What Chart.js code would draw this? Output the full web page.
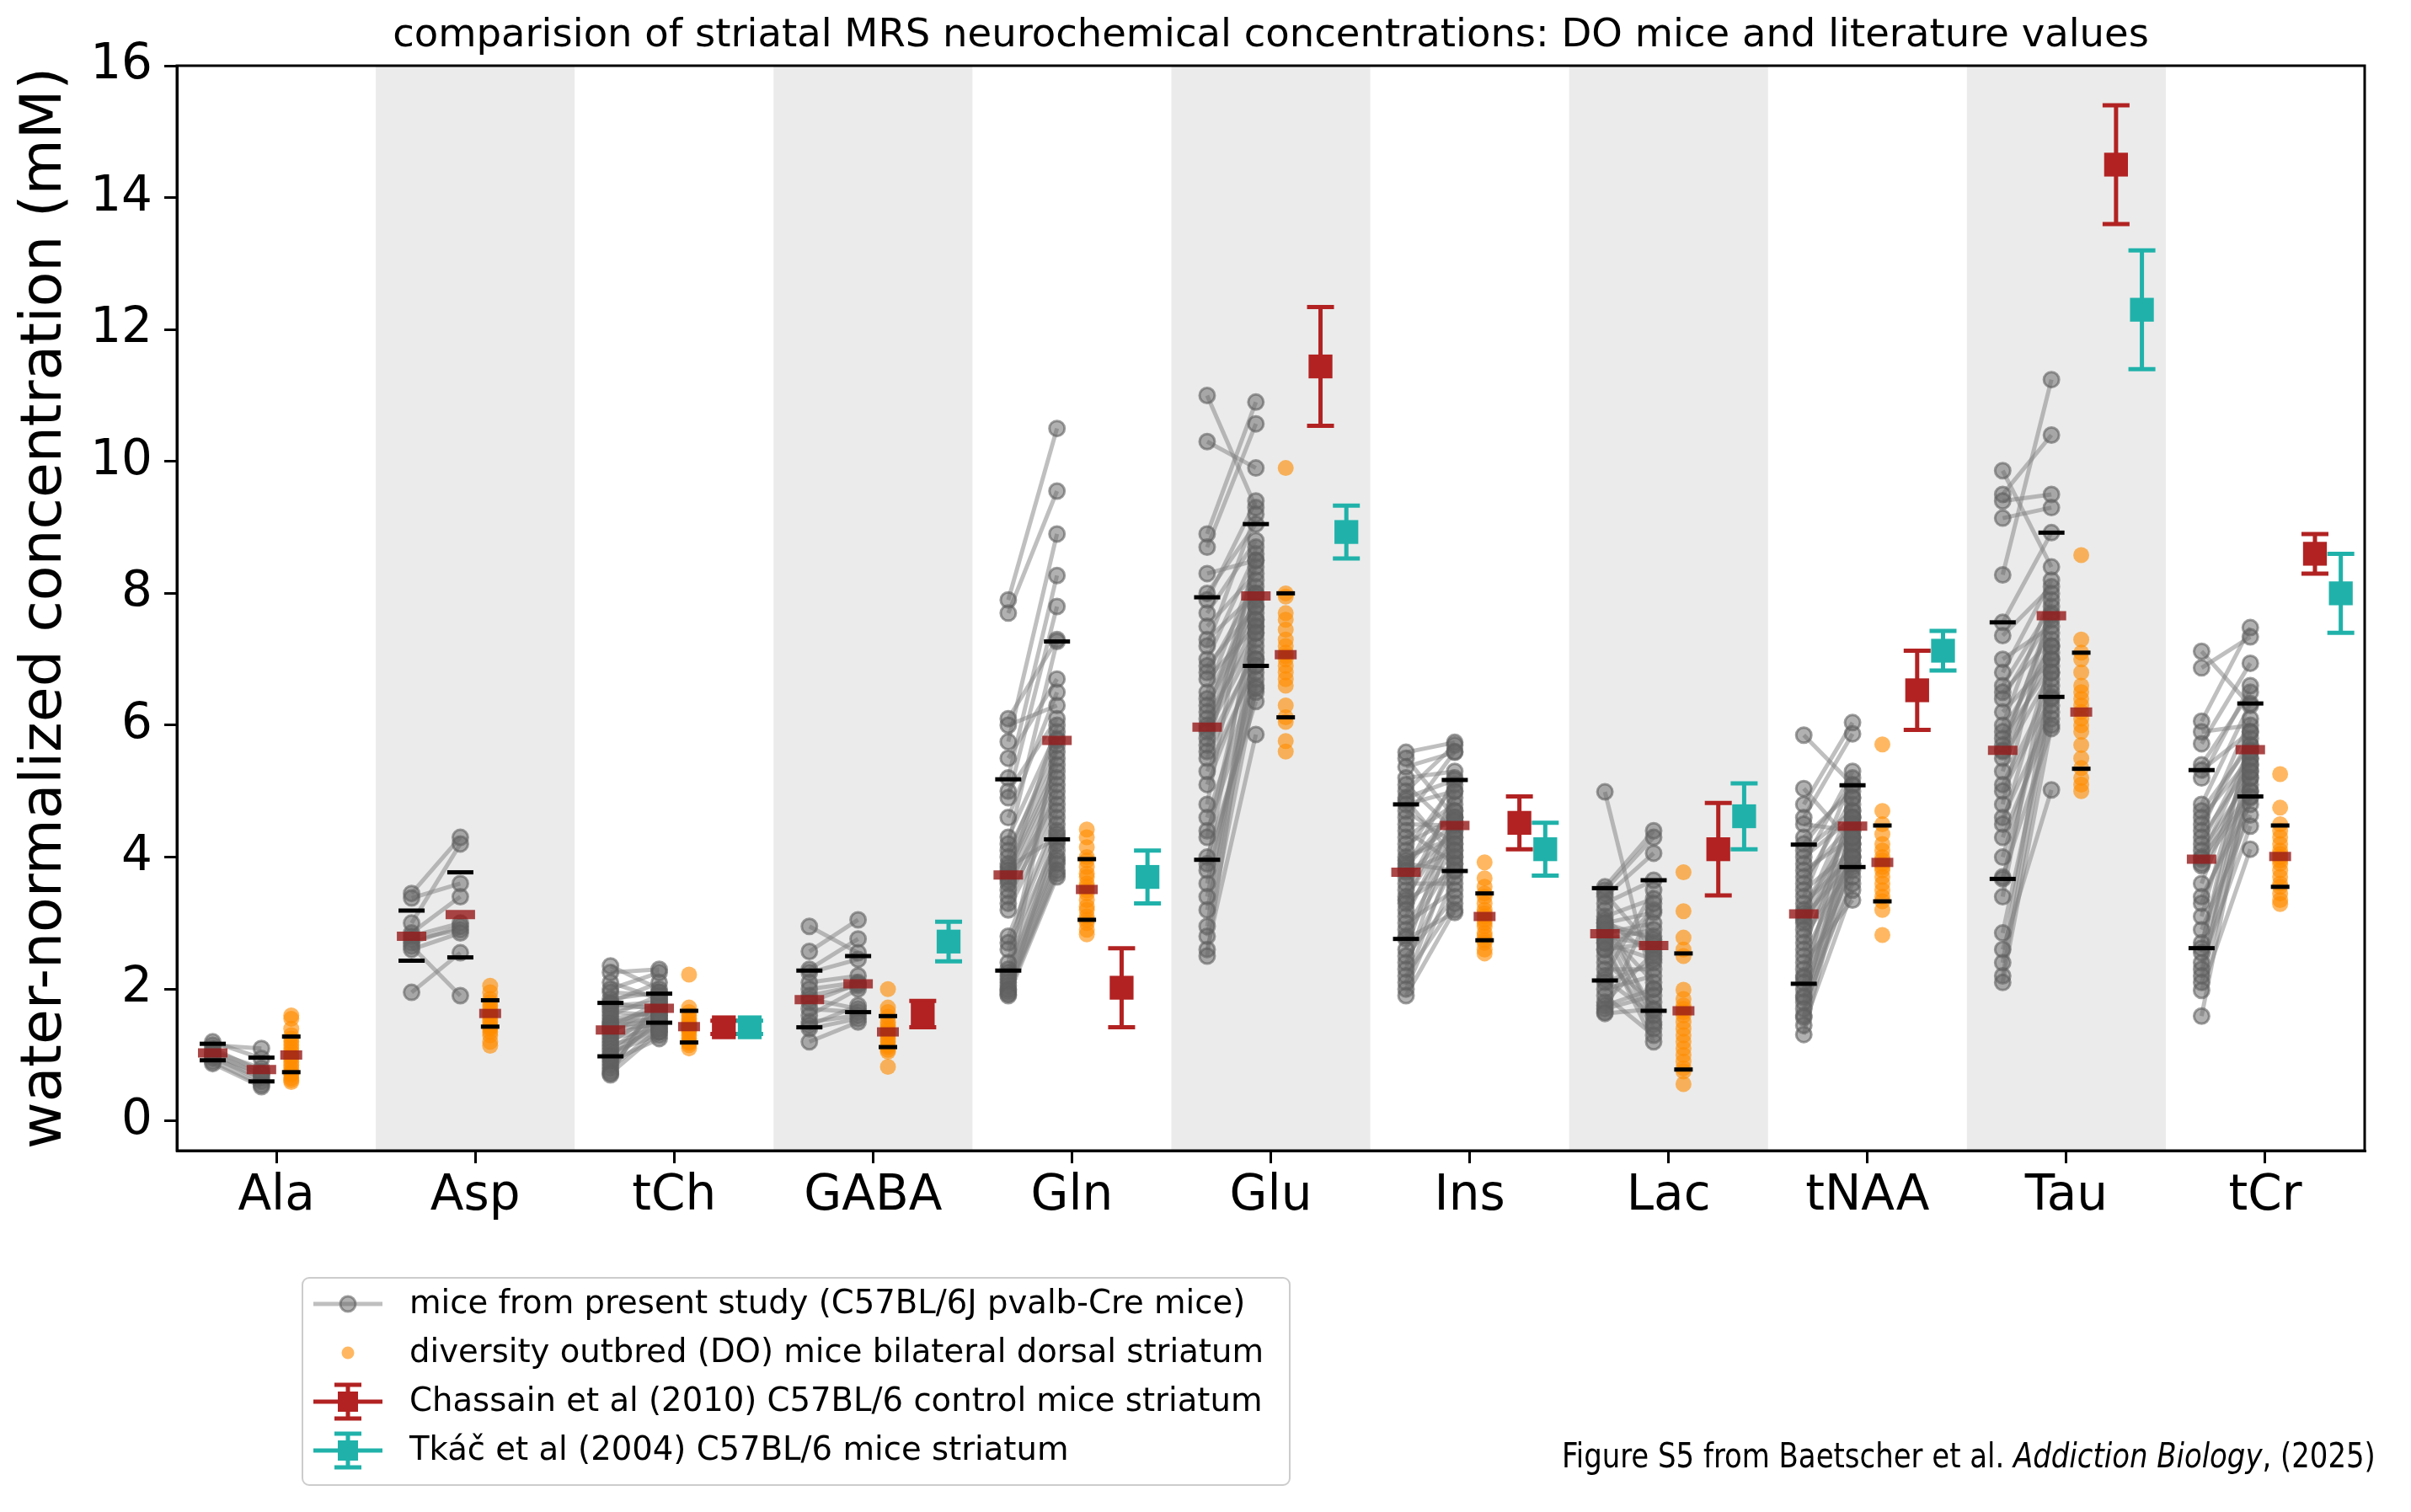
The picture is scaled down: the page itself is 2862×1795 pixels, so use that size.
<!DOCTYPE html>
<html>
<head>
<meta charset="utf-8">
<script src="https://cdn.jsdelivr.net/npm/chart.js@4.4.1/dist/chart.umd.min.js"></script>
<style>
  html, body { margin: 0; padding: 0; background: #fff; overflow: hidden; }
  #wrap { position: relative; width: 2862px; height: 1795px; }
  #note {
    position: absolute; right: 42px; top: 1708px;
    font: 41px "Liberation Sans Narrow", "DejaVu Sans Condensed", sans-serif;
    line-height: 1; color: #000; white-space: nowrap;
    transform: scaleX(0.92); transform-origin: right center;
  }
</style>
</head>
<body>
<div id="wrap">
  <canvas id="chart"></canvas>
  <div id="note">Figure S5 from Baetscher et al. <i>Addiction Biology</i>, (2025)</div>
</div>
<script>
const categories = ["Ala", "Asp", "tCh", "GABA", "Gln", "Glu", "Ins", "Lac", "tNAA", "Tau", "tCr"];
const yTicks = [0, 2, 4, 6, 8, 10, 12, 14, 16];

// present study mice: first and second measurement per mouse (paired)
const alaA = [1.2, 1.15, 1.1, 1.05, 1.02, 1.0, 0.98, 0.95, 0.9, 0.87];
const alaB = [0.95, 1.1, 0.75, 0.8, 0.7, 0.72, 0.6, 0.65, 0.55, 0.52];
const aspA = [3.45, 3.38, 3.0, 2.85, 2.8, 2.75, 2.7, 2.65, 2.6, 1.95];
const aspB = [4.3, 3.6, 4.2, 3.4, 3.0, 2.9, 2.95, 1.9, 2.85, 2.55];
const tchA = [2.35, 2.25, 2.1, 2.0, 1.95, 1.85, 1.8, 1.78, 1.75, 1.7, 1.65, 1.6, 1.55, 1.5, 1.48, 1.45, 1.42, 1.4,
  1.38, 1.35, 1.3, 1.25, 1.2, 1.15, 1.1, 1.05, 1.0, 0.98, 0.95, 0.9, 0.85, 0.8, 0.75, 0.72, 0.7];
const tchB = [2.0, 2.3, 1.85, 2.25, 1.9, 1.95, 2.1, 1.7, 1.8, 1.75, 1.6, 1.9, 1.65, 1.55, 1.7, 1.5, 1.8, 1.45,
  1.6, 1.75, 1.5, 1.4, 1.65, 1.35, 1.55, 1.3, 1.45, 1.7, 1.5, 1.25, 1.6, 1.4, 1.85, 1.35, 1.95];
const gabaA = [2.95, 2.57, 2.3, 2.25, 2.1, 2.0, 1.9, 1.85, 1.8, 1.7, 1.6, 1.5, 1.45, 1.4, 1.2];
const gabaB = [2.55, 3.05, 2.76, 2.45, 2.2, 2.1, 2.05, 1.7, 2.08, 1.65, 2.0, 1.6, 1.75, 1.55, 1.5];
const glnA = [7.9, 7.7, 6.1, 6.0, 5.75, 5.5, 5.2, 5.0, 4.9, 4.6, 4.3, 4.2, 4.1, 4.0, 3.9, 3.85, 3.8, 3.75, 3.7, 3.65,
  3.6, 3.5, 3.4, 3.3, 3.2, 2.8, 2.7, 2.6, 2.4, 2.3, 2.25, 2.2, 2.15, 2.1, 2.05, 2.0, 1.98, 1.95, 1.92, 1.9];
const glnB = [10.5, 9.55, 7.3, 6.3, 8.9, 6.7, 8.27, 6.1, 7.8, 6.5, 5.9, 7.27, 5.6, 5.8, 5.5, 4.3, 5.4, 5.3, 6.0, 5.2,
  4.9, 5.1, 4.8, 5.0, 4.7, 4.6, 4.5, 4.25, 5.7, 4.4, 4.2, 4.1, 4.0, 3.95, 5.77, 3.9, 3.8, 3.75, 4.35, 3.7];
const gluA = [11.0, 10.3, 8.9, 8.7, 8.3, 8.0, 7.9, 7.7, 7.5, 7.3, 7.2, 7.0, 6.9, 6.8, 6.7, 6.5, 6.4, 6.3, 6.2, 6.1,
  6.0, 5.95, 5.9, 5.8, 5.7, 5.6, 5.5, 5.3, 5.1, 4.8, 4.6, 4.4, 4.3, 4.0, 3.9, 3.8, 3.6, 3.4, 3.2, 2.95, 2.8, 2.6, 2.5];
const gluB = [9.3, 9.9, 10.9, 10.57, 8.5, 9.05, 9.4, 8.8, 8.3, 8.0, 9.2, 8.6, 7.8, 8.1, 7.5, 8.4, 7.9, 7.7, 8.2, 7.4,
  8.0, 7.6, 7.3, 7.95, 7.1, 8.5, 7.2, 6.9, 7.0, 8.7, 6.8, 6.6, 7.5, 6.36, 7.8, 6.5, 6.9, 7.0, 6.7, 7.6, 6.56, 5.86, 7.4];
const insA = [5.59, 5.5, 5.37, 5.2, 5.1, 5.0, 4.9, 4.86, 4.8, 4.7, 4.6, 4.5, 4.4, 4.3, 4.2, 4.1, 4.0, 3.95, 3.9, 3.85,
  3.8, 3.77, 3.7, 3.6, 3.5, 3.4, 3.35, 3.3, 3.2, 3.1, 3.0, 2.9, 2.8, 2.76, 2.6, 2.5, 2.4, 2.3, 2.2, 2.1, 2.0, 1.9];
const insB = [5.74, 4.6, 5.59, 5.3, 4.4, 5.7, 5.17, 4.0, 5.0, 4.2, 5.6, 4.48, 3.9, 4.8, 4.6, 5.1, 4.3, 4.5, 3.8, 4.7,
  5.2, 4.1, 4.4, 3.6, 4.9, 4.5, 3.79, 5.0, 4.3, 4.6, 3.5, 4.2, 4.0, 3.16, 4.7, 3.4, 3.9, 4.55, 3.3, 4.1, 3.7, 3.2];
const lacA = [4.99, 3.55, 3.5, 3.45, 3.4, 3.3, 3.2, 3.1, 3.05, 3.0, 2.95, 2.9, 2.85, 2.84, 2.8, 2.75, 2.7, 2.6,
  2.5, 2.4, 2.3, 2.2, 2.15, 2.1, 2.0, 1.9, 1.8, 1.75, 1.7, 1.65, 1.63, 2.9, 3.0, 2.6, 2.7];
const lacB = [2.0, 4.4, 4.3, 2.6, 4.06, 3.65, 1.5, 3.37, 2.5, 3.16, 1.67, 2.8, 3.0, 1.46, 2.66, 2.9, 1.2, 2.7,
  3.2, 1.8, 2.3, 3.5, 1.6, 2.4, 2.2, 1.3, 2.55, 2.0, 1.9, 3.3, 1.7, 2.1, 2.75, 1.4, 2.45];
const naaA = [5.85, 5.04, 4.8, 4.6, 4.5, 4.3, 4.2, 4.1, 4.0, 3.9, 3.8, 3.7, 3.6, 3.5, 3.4, 3.3, 3.2, 3.15, 3.1, 3.05,
  3.0, 2.9, 2.8, 2.7, 2.6, 2.5, 2.4, 2.3, 2.2, 2.17, 2.1, 2.0, 1.9, 1.87, 1.8, 1.7, 1.6, 1.57, 1.45, 1.31];
const naaB = [5.1, 4.2, 6.04, 5.87, 4.4, 5.0, 5.09, 4.7, 4.6, 5.3, 4.3, 4.5, 4.9, 4.1, 5.2, 4.0, 4.45, 4.8, 3.9, 4.6,
  4.2, 4.5, 3.85, 4.3, 4.7, 4.0, 3.35, 4.4, 3.8, 4.1, 4.9, 3.9, 3.6, 4.2, 4.5, 3.7, 4.0, 4.6, 3.5, 4.3];
const tauA = [9.86, 9.5, 9.4, 9.14, 8.28, 7.56, 7.36, 7.0, 6.8, 6.6, 6.5, 6.4, 6.2, 6.0, 5.9, 5.8, 5.7, 5.62,
  5.6, 5.5, 5.3, 5.1, 5.0, 4.8, 4.6, 4.5, 4.3, 4.0, 3.7, 3.67, 3.4, 2.85, 2.6, 2.4, 2.2, 2.1];
const tauB = [8.4, 10.4, 9.5, 9.3, 11.24, 8.92, 8.1, 7.5, 8.2, 7.8, 7.3, 7.66, 7.0, 8.0, 7.2, 6.9, 7.6, 7.7,
  7.1, 6.8, 7.4, 6.6, 6.43, 7.9, 6.2, 7.0, 6.1, 6.5, 5.95, 6.7, 7.2, 6.3, 5.02, 6.8, 6.4, 6.0];
const tcrA = [7.12, 6.87, 6.06, 5.9, 5.72, 5.4, 5.32, 5.2, 4.8, 4.7, 4.6, 4.5, 4.4, 4.3, 4.2, 4.1, 4.0,
  3.97, 3.9, 3.87, 3.6, 3.4, 3.3, 3.1, 2.9, 2.7, 2.62, 2.55, 2.4, 2.3, 2.2, 2.1, 1.98, 1.59];
const tcrB = [6.3, 7.34, 7.48, 6.0, 6.94, 6.5, 5.9, 6.6, 6.33, 5.7, 5.5, 5.8, 6.1, 5.4, 5.63, 5.2, 5.6,
  5.0, 5.3, 4.92, 5.5, 4.8, 5.1, 5.7, 4.64, 5.4, 5.9, 5.0, 4.47, 5.2, 5.6, 4.9, 4.12, 5.3];

// diversity outbred mice
const alaDO = [1.6, 1.55, 1.4, 1.3, 1.25, 1.2, 1.15, 1.1, 1.05, 1.0, 0.98, 0.95, 0.9, 0.85, 0.8, 0.75, 0.72, 0.7, 0.65, 0.62, 0.59];
const aspDO = [2.05, 1.95, 1.85, 1.8, 1.75, 1.7, 1.65, 1.62, 1.6, 1.55, 1.5, 1.45, 1.42, 1.4, 1.35, 1.3, 1.2, 1.14];
const tchDO = [2.22, 1.72, 1.65, 1.6, 1.55, 1.5, 1.47, 1.45, 1.42, 1.4, 1.38, 1.35, 1.3, 1.25, 1.2, 1.18, 1.15, 1.1];
const gabaDO = [2.0, 1.72, 1.65, 1.58, 1.5, 1.45, 1.4, 1.36, 1.33, 1.3, 1.25, 1.2, 1.15, 1.12, 1.08, 1.05, 0.82];
const glnDO = [4.42, 4.3, 4.15, 4.0, 3.95, 3.85, 3.75, 3.7, 3.6, 3.55, 3.5, 3.45, 3.35, 3.25, 3.2, 3.1, 3.05, 3.0, 2.9, 2.83];
const gluDO = [9.9, 8.0, 7.95, 7.7, 7.6, 7.45, 7.3, 7.2, 7.1, 7.05, 7.0, 6.9, 6.8, 6.7, 6.6, 6.3, 6.12, 6.05, 5.76, 5.6];
const insDO = [3.92, 3.68, 3.55, 3.45, 3.4, 3.3, 3.2, 3.15, 3.1, 3.05, 3.0, 2.95, 2.85, 2.8, 2.74, 2.7, 2.6, 2.54];
const lacDO = [3.77, 3.18, 2.78, 2.6, 2.5, 1.99, 1.85, 1.75, 1.7, 1.65, 1.6, 1.5, 1.4, 1.3, 1.2, 1.1, 1.0, 0.9, 0.8, 0.75, 0.56];
const naaDO = [5.71, 4.7, 4.5, 4.35, 4.2, 4.1, 4.0, 3.95, 3.9, 3.85, 3.8, 3.7, 3.6, 3.5, 3.4, 3.33, 3.2, 2.82];
const tauDO = [8.58, 7.3, 7.1, 7.0, 6.8, 6.6, 6.5, 6.4, 6.3, 6.2, 6.1, 6.0, 5.9, 5.7, 5.5, 5.35, 5.2, 5.1, 5.0];
const tcrDO = [5.26, 4.75, 4.5, 4.4, 4.3, 4.2, 4.1, 4.05, 4.0, 3.95, 3.9, 3.8, 3.7, 3.6, 3.55, 3.45, 3.35, 3.29];

// medians and quartiles
const medFirst = [1.03, 2.8, 1.38, 1.84, 3.73, 5.97, 3.77, 2.84, 3.14, 5.62, 3.97];
const q1First = [0.92, 2.43, 0.98, 1.42, 2.28, 3.96, 2.76, 2.13, 2.08, 3.67, 2.62];
const q3First = [1.17, 3.19, 1.79, 2.28, 5.18, 7.94, 4.8, 3.53, 4.19, 7.56, 5.32];
const medSecond = [0.78, 3.13, 1.71, 2.08, 5.77, 7.96, 4.48, 2.66, 4.47, 7.66, 5.63];
const q1Second = [0.6, 2.48, 1.49, 1.65, 4.27, 6.9, 3.79, 1.67, 3.85, 6.43, 4.92];
const q3Second = [0.96, 3.77, 1.93, 2.5, 7.27, 9.05, 5.17, 3.65, 5.09, 8.92, 6.33];
const medDO = [1.0, 1.63, 1.43, 1.35, 3.51, 7.07, 3.1, 1.67, 3.92, 6.2, 4.01];
const q1DO = [0.74, 1.43, 1.19, 1.12, 3.05, 6.12, 2.74, 0.78, 3.33, 5.34, 3.55];
const q3DO = [1.28, 1.83, 1.67, 1.59, 3.97, 8.0, 3.45, 2.54, 4.48, 7.1, 4.48];

// literature values (mean, error)
const chassain = [null, null, 1.42, 1.62, 2.02, 11.44, 4.52, 4.12, 6.53, 14.5, 8.6];
const chassainErr = [null, null, 0.1, 0.2, 0.6, 0.9, 0.4, 0.7, 0.6, 0.9, 0.3];
const tkac = [null, null, 1.42, 2.72, 3.7, 8.93, 4.12, 4.62, 7.13, 12.3, 8.0];
const tkacErr = [null, null, 0.1, 0.3, 0.4, 0.4, 0.4, 0.5, 0.3, 0.9, 0.6];

const legendLabels = [
  "mice from present study (C57BL/6J pvalb-Cre mice)",
  "diversity outbred (DO) mice bilateral dorsal striatum",
  "Chassain et al (2010) C57BL/6 control mice striatum",
  "Tkáč et al (2004) C57BL/6 mice striatum"
];

const miceFirst = [alaA, aspA, tchA, gabaA, glnA, gluA, insA, lacA, naaA, tauA, tcrA];
const miceSecond = [alaB, aspB, tchB, gabaB, glnB, gluB, insB, lacB, naaB, tauB, tcrB];
const doMice = [alaDO, aspDO, tchDO, gabaDO, glnDO, gluDO, insDO, lacDO, naaDO, tauDO, tcrDO];

const GRAY = "rgba(128,128,128,0.5)";
const RED = "#b22222";
const TEAL = "#20b2aa";
const ORANGE = "rgba(255,140,0,0.62)";
const MEDIAN = "rgba(150,25,25,0.8)";

// horizontal offsets within each category
const off = { first: -0.32, second: -0.075, dO: 0.075, chassain: 0.25, tkac: 0.38 };

const pairPts = [];
miceFirst.forEach((vals, i) => {
  vals.forEach((v, k) => {
    pairPts.push({ x: i + off.first, y: v }, { x: i + off.second, y: miceSecond[i][k] }, { x: i, y: null });
  });
});

const doPts = [];
doMice.forEach((vals, i) => vals.forEach(v => doPts.push({ x: i + off.dO, y: v })));

const at = (vals, o) => vals.map((v, i) => ({ x: i + o, y: v }));

function errPts(vals, errs, o) {
  const out = [];
  vals.forEach((v, i) => {
    if (v == null) return;
    out.push({ x: i + o, y: v - errs[i] }, { x: i + o, y: v + errs[i] }, { x: i + o, y: null });
  });
  return out;
}
const meanPts = (vals, o) => vals.map((v, i) => ({ x: i + o, y: v })).filter(p => p.y != null);

const bandPlugin = {
  id: "bands",
  beforeDraw(chart) {
    const { ctx, chartArea: a, scales: { x } } = chart;
    ctx.save();
    ctx.fillStyle = "#ebebeb";
    categories.forEach((c, i) => {
      if (i % 2 === 1) {
        const l = x.getPixelForValue(i - 0.5), r = x.getPixelForValue(i + 0.5);
        ctx.fillRect(l, a.top, r - l, a.bottom - a.top);
      }
    });
    ctx.restore();
  }
};

const framePlugin = {
  id: "frame",
  afterDraw(chart) {
    const { ctx, chartArea: a } = chart;
    ctx.save();
    ctx.strokeStyle = "#000";
    ctx.lineWidth = 3;
    ctx.strokeRect(a.left, a.top, a.right - a.left, a.bottom - a.top);
    // title centred over the plot
    ctx.fillStyle = "#000";
    ctx.font = "46.5px 'DejaVu Sans'";
    ctx.textAlign = "center";
    ctx.textBaseline = "alphabetic";
    ctx.fillText("comparision of striatal MRS neurochemical concentrations: DO mice and literature values",
      (a.left + a.right) / 2, 55);
    ctx.restore();
  }
};

function errHandle(ctx, cx, cy, color) {
  ctx.strokeStyle = color;
  ctx.fillStyle = color;
  ctx.lineWidth = 5;
  ctx.beginPath();
  ctx.moveTo(cx - 41, cy); ctx.lineTo(cx + 41, cy);
  ctx.moveTo(cx, cy - 20); ctx.lineTo(cx, cy + 20);
  ctx.moveTo(cx - 16, cy - 20); ctx.lineTo(cx + 16, cy - 20);
  ctx.moveTo(cx - 16, cy + 20); ctx.lineTo(cx + 16, cy + 20);
  ctx.stroke();
  ctx.fillRect(cx - 12, cy - 12, 24, 24);
}

const legendPlugin = {
  id: "boxLegend",
  afterDraw(chart) {
    const { ctx, chartArea: a } = chart;
    const bx = a.left + 149, by = a.bottom + 151, bw = 1172, bh = 246;
    ctx.save();
    ctx.beginPath();
    ctx.roundRect(bx, by, bw, bh, 8);
    ctx.fillStyle = "rgba(255,255,255,0.8)";
    ctx.fill();
    ctx.strokeStyle = "#cccccc";
    ctx.lineWidth = 2;
    ctx.stroke();
    const hx = bx + 54;
    legendLabels.forEach((label, k) => {
      const y = by + 31 + 58 * k;
      if (k === 0) {
        ctx.strokeStyle = GRAY;
        ctx.lineWidth = 5;
        ctx.beginPath(); ctx.moveTo(hx - 41, y); ctx.lineTo(hx + 41, y); ctx.stroke();
        ctx.beginPath(); ctx.arc(hx, y, 9, 0, Math.PI * 2);
        ctx.fillStyle = "rgba(100,100,100,0.5)"; ctx.fill();
        ctx.lineWidth = 3; ctx.strokeStyle = "rgba(95,95,95,0.6)"; ctx.stroke();
      } else if (k === 1) {
        ctx.beginPath(); ctx.arc(hx, y, 7.5, 0, Math.PI * 2);
        ctx.fillStyle = ORANGE; ctx.fill();
      } else {
        errHandle(ctx, hx, y, k === 2 ? RED : TEAL);
      }
      ctx.fillStyle = "#000";
      ctx.font = "38.6px 'DejaVu Sans'";
      ctx.textAlign = "left";
      ctx.textBaseline = "middle";
      ctx.fillText(label, bx + 127, y + 1);
    });
    ctx.restore();
  }
};

Chart.defaults.font.family = "'DejaVu Sans', sans-serif";
Chart.defaults.color = "#000";

const axisGrid = { drawOnChartArea: false, drawTicks: true, tickLength: 15, color: "#000", lineWidth: 3 };
const axisBorder = { display: true, color: "#000", width: 3 };

new Chart(document.getElementById("chart").getContext("2d"), {
  type: "scatter",
  data: {
    datasets: [
      {
        type: "line", data: pairPts, spanGaps: false, segment: {}, order: 10,
        borderColor: GRAY, borderWidth: 5,
        pointRadius: 9, pointBackgroundColor: "rgba(100,100,100,0.5)",
        pointBorderColor: "rgba(95,95,95,0.6)", pointBorderWidth: 3
      },
      {
        data: doPts, order: 9,
        pointRadius: 9.5, pointBackgroundColor: ORANGE, pointBorderWidth: 0
      },
      {
        data: at(medFirst, off.first).concat(at(medSecond, off.second)), order: 8,
        pointStyle: "line", pointRadius: 17.5, pointBorderWidth: 11, pointBorderColor: MEDIAN
      },
      {
        data: at(medDO, off.dO), order: 8,
        pointStyle: "line", pointRadius: 13, pointBorderWidth: 11, pointBorderColor: MEDIAN
      },
      {
        data: at(q1First, off.first).concat(at(q3First, off.first), at(q1Second, off.second), at(q3Second, off.second)),
        order: 7, pointStyle: "line", pointRadius: 15.5, pointBorderWidth: 5, pointBorderColor: "#000"
      },
      {
        data: at(q1DO, off.dO).concat(at(q3DO, off.dO)), order: 7,
        pointStyle: "line", pointRadius: 11, pointBorderWidth: 5, pointBorderColor: "#000"
      },
      {
        type: "line", data: errPts(chassain, chassainErr, off.chassain), spanGaps: false, order: 6,
        borderColor: RED, borderWidth: 5,
        pointStyle: "line", pointRadius: 16, pointBorderWidth: 5, pointBorderColor: RED
      },
      {
        data: meanPts(chassain, off.chassain), order: 5,
        pointStyle: "rect", pointRadius: 20, pointBackgroundColor: RED, pointBorderWidth: 0
      },
      {
        type: "line", data: errPts(tkac, tkacErr, off.tkac), spanGaps: false, order: 4,
        borderColor: TEAL, borderWidth: 5,
        pointStyle: "line", pointRadius: 16, pointBorderWidth: 5, pointBorderColor: TEAL
      },
      {
        data: meanPts(tkac, off.tkac), order: 3,
        pointStyle: "rect", pointRadius: 20, pointBackgroundColor: TEAL, pointBorderWidth: 0
      }
    ]
  },
  options: {
    responsive: true,
    maintainAspectRatio: false,
    animation: false,
    devicePixelRatio: 1,
    events: [],
    layout: { padding: { left: 0, top: 78, right: 55, bottom: 0 } },
    plugins: { legend: { display: false }, tooltip: { enabled: false }, title: { display: false } },
    scales: {
      x: {
        type: "linear", min: -0.5, max: 10.5,
        afterBuildTicks: s => { s.ticks = categories.map((c, i) => ({ value: i })); },
        afterFit: s => { s.height = 429; },
        ticks: { callback: v => categories[v], font: { size: 58 }, color: "#000", padding: 5, autoSkip: false, maxRotation: 0 },
        grid: axisGrid,
        border: axisBorder
      },
      y: {
        type: "linear", min: -0.45, max: 16,
        afterBuildTicks: s => { s.ticks = yTicks.map(v => ({ value: v })); },
        afterFit: s => { s.width = 210; },
        ticks: { font: { size: 58 }, color: "#000", padding: 14 },
        grid: axisGrid,
        border: axisBorder,
        title: {
          display: true, text: "water-normalized concentration (mM)",
          font: { size: 68 }, color: "#000", padding: { top: 14, bottom: 0 }
        }
      }
    }
  },
  plugins: [bandPlugin, framePlugin, legendPlugin]
});
</script>
</body>
</html>
